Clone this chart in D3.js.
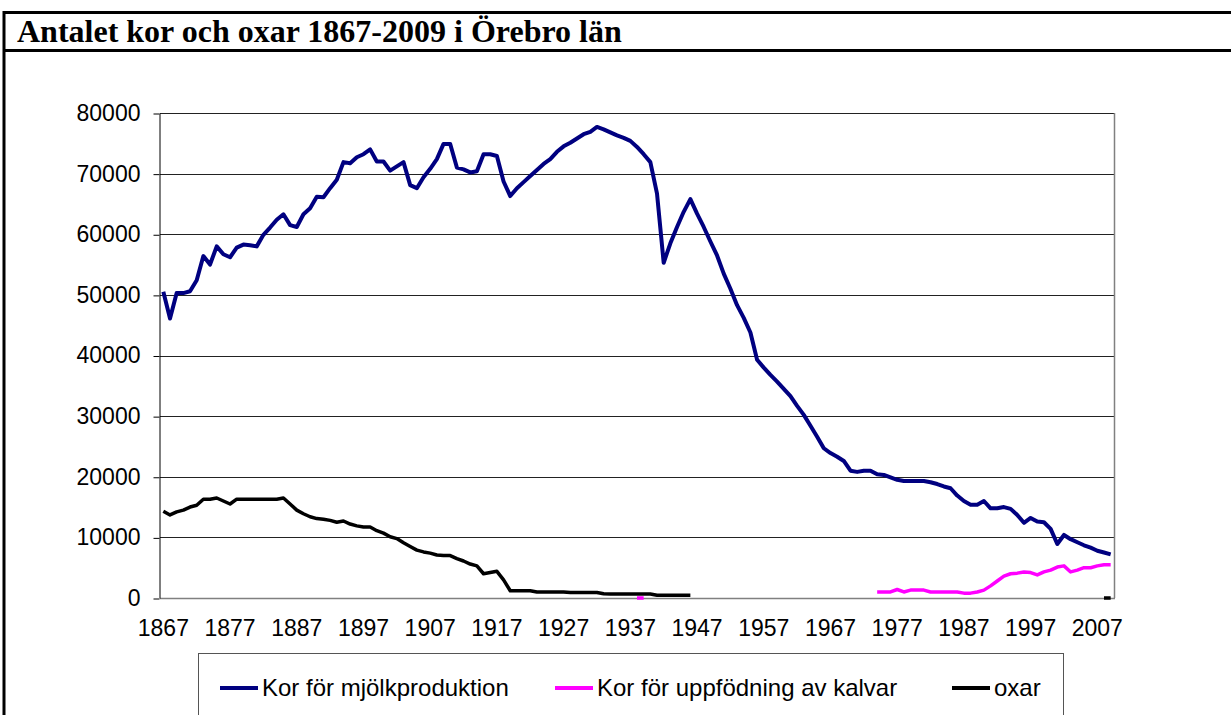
<!DOCTYPE html>
<html>
<head>
<meta charset="utf-8">
<script src="https://cdn.jsdelivr.net/npm/d3@7"></script>
<style>
html, body { margin: 0; background: #fff; overflow: hidden; }
svg { display: block; }
.axis text { font-family: "Liberation Sans", Arial, sans-serif; font-size: 23px; fill: #000; }
</style>
</head>
<body>
<svg id="chart" width="1231" height="715"></svg>
<script>
// data
const title = 'Antalet kor och oxar 1867-2009 i Örebro län';
const seriesNames = ['Kor för mjölkproduktion', 'Kor för uppfödning av kalvar', 'oxar'];
const seriesColors = ['#000080', '#ff00ff', '#000000'];
const years = d3.range(1867, 2010);
const xTickYears = d3.range(1867, 2010, 10);
const yTicks = d3.range(0, 80001, 10000);

// one value per year, 1867-2009
const mjolk = [
    50500, 46100, 50300, 50300, 50600, 52400, 56400, 55000, 58000, 56700, // 1867
    56200, 57800, 58300, 58200, 58000, 59900, 61100, 62400, 63300, 61500, // 1877
    61200, 63300, 64300, 66200, 66100, 67600, 69000, 71900, 71700, 72700, // 1887
    73200, 74000, 72000, 72000, 70500, 71200, 71900, 68100, 67600, 69400, // 1897
    70800, 72400, 74900, 74900, 71000, 70700, 70200, 70400, 73200, 73200, // 1907
    72900, 68700, 66300, 67600, 68600, 69600, 70600, 71600, 72400, 73600, // 1917
    74500, 75100, 75800, 76500, 76900, 77700, 77300, 76800, 76300, 75900, // 1927
    75400, 74400, 73200, 71900, 66700, 55300, 58500, 61200, 63700, 65800, // 1937
    63400, 61200, 58800, 56500, 53500, 51000, 48300, 46200, 43800, 39300, // 1947
    38000, 36800, 35700, 34500, 33300, 31700, 30200, 28400, 26600, 24700, // 1957
    23900, 23300, 22600, 21000, 20800, 21000, 21000, 20400, 20300, 19900, // 1967
    19500, 19300, 19300, 19300, 19300, 19100, 18800, 18400, 18100, 16900, // 1977
    16000, 15400, 15400, 16000, 14800, 14800, 15000, 14700, 13700, 12400, // 1987
    13200, 12600, 12500, 11400, 8900, 10400, 9700, 9200, 8700, 8300,      // 1997
    7800, 7500, 7200                                                      // 2007
];

// [year, value], null breaks the line
const kalvar = [
    [1938, 0], [1939, 0], [1940, null],
    [1974, 1000], [1975, 1000], [1976, 1000], [1977, 1400], [1978, 1000],
    [1979, 1300], [1980, 1300], [1981, 1300], [1982, 1000], [1983, 1000],
    [1984, 1000], [1985, 1000], [1986, 1000], [1987, 800], [1988, 800],
    [1989, 1000], [1990, 1300], [1991, 2000], [1992, 2800], [1993, 3600],
    [1994, 4000], [1995, 4100], [1996, 4300], [1997, 4200], [1998, 3800],
    [1999, 4300], [2000, 4600], [2001, 5100], [2002, 5300], [2003, 4300],
    [2004, 4600], [2005, 5000], [2006, 5000], [2007, 5300], [2008, 5500],
    [2009, 5500]
];

// oxar 1867-1946, then a short stretch at the end
const oxarEarly = [
    14300, 13700, 14200, 14500, 15000, 15300, 16300, 16300, 16500, 16000, // 1867
    15500, 16300, 16300, 16300, 16300, 16300, 16300, 16300, 16500, 15500, // 1877
    14500, 13900, 13400, 13100, 13000, 12800, 12500, 12700, 12200, 11900, // 1887
    11700, 11700, 11100, 10700, 10100, 9800, 9100, 8500, 7900, 7600,      // 1897
    7400, 7100, 7000, 7000, 6500, 6100, 5600, 5300, 4000, 4200,           // 1907
    4400, 3000, 1200, 1200, 1200, 1200, 1000, 1000, 1000, 1000,           // 1917
    1000, 900, 900, 900, 900, 900, 700, 650, 650, 650,                    // 1927
    650, 650, 650, 650, 450, 450, 450, 450, 450, 450                      // 1937
];
const oxarLate = [[2008, 0], [2009, 0]];

const mjolkPts = years.map((yr, i) => [yr, mjolk[i]]);
const oxarPts = oxarEarly.map((v, i) => [1867 + i, v]).concat([[1947, null]], oxarLate);

const svg = d3.select('#chart');
const m = { left: 160, right: 1114, top: 113, bottom: 598 };

const x = d3.scaleBand().domain(years).range([m.left, m.right]);
const xc = yr => x(yr) + x.bandwidth() / 2;
const y = d3.scaleLinear().domain([0, 80000]).range([m.bottom, m.top]);

svg.append('rect').attr('width', 1231).attr('height', 715).attr('fill', '#fff');

// table-cell frame with the title row (left, top and title separator only)
const frame = svg.append('g').attr('stroke', '#000').attr('stroke-width', 3);
frame.append('line').attr('x1', 4).attr('x2', 4).attr('y1', 11).attr('y2', 715);
frame.append('line').attr('x1', 3).attr('x2', 1231).attr('y1', 12.5).attr('y2', 12.5);
frame.append('line').attr('x1', 3).attr('x2', 1231).attr('y1', 50.5).attr('y2', 50.5);

svg.append('text')
    .attr('x', 17).attr('y', 42)
    .attr('font-family', '"Liberation Serif", "Times New Roman", serif')
    .attr('font-weight', 'bold').attr('font-size', 32)
    .text(title);

// gridlines
svg.append('g').selectAll('line')
    .data(yTicks.filter(v => v > 0))
    .enter().append('line')
    .attr('x1', m.left).attr('x2', m.right)
    .attr('y1', d => Math.round(y(d)) + 0.5).attr('y2', d => Math.round(y(d)) + 0.5)
    .attr('stroke', '#222').attr('stroke-width', 1);

// plot area border (right + bottom grey)
svg.append('line')
    .attr('x1', m.right + 0.5).attr('x2', m.right + 0.5)
    .attr('y1', Math.round(y(80000))).attr('y2', m.bottom)
    .attr('stroke', '#808080').attr('stroke-width', 1.5);
svg.append('line')
    .attr('x1', m.left).attr('x2', m.right + 1)
    .attr('y1', m.bottom + 0.5).attr('y2', m.bottom + 0.5)
    .attr('stroke', '#808080').attr('stroke-width', 1.5);

// y axis
svg.append('g').attr('class', 'axis')
    .attr('transform', `translate(${m.left - 0.5},0)`)
    .call(d3.axisLeft(y).tickValues(yTicks).tickSize(6).tickSizeOuter(0).tickPadding(13)
        .tickFormat(d3.format('d')))
    .call(g => g.selectAll('.tick line').attr('transform', 'translate(0,0.5)'));

// x axis labels
svg.append('g').attr('class', 'axis')
    .attr('transform', `translate(0,${m.bottom})`)
    .call(d3.axisBottom(x).tickValues(xTickYears).tickSize(0).tickPadding(22))
    .call(g => g.select('.domain').remove());

// series
const lineMaker = d3.line()
    .defined(d => d[1] !== null)
    .x(d => xc(d[0]))
    .y(d => y(d[1]));

const allSeries = [mjolkPts, kalvar, oxarPts];
const widths = [4, 3.5, 3.5];
allSeries.forEach((pts, i) => {
    svg.append('path')
        .attr('fill', 'none')
        .attr('stroke', seriesColors[i])
        .attr('stroke-width', widths[i])
        .attr('stroke-linejoin', 'round')
        .attr('d', lineMaker(pts));
});

// legend
svg.append('rect')
    .attr('x', 198.5).attr('y', 653.5).attr('width', 865).attr('height', 120)
    .attr('fill', 'none').attr('stroke', '#555').attr('stroke-width', 1);

const legendX = [220, 555, 952];
const leg = svg.append('g').selectAll('g')
    .data(seriesNames)
    .enter().append('g')
    .attr('transform', (d, i) => `translate(${legendX[i]},688)`);
leg.append('line')
    .attr('x1', 0).attr('x2', 38).attr('y1', 0).attr('y2', 0)
    .attr('stroke', (d, i) => seriesColors[i]).attr('stroke-width', 4);
leg.append('text')
    .attr('x', 42).attr('y', 8)
    .attr('font-family', '"Liberation Sans", Arial, sans-serif')
    .attr('font-size', 24)
    .text(d => d);
</script>
</body>
</html>
